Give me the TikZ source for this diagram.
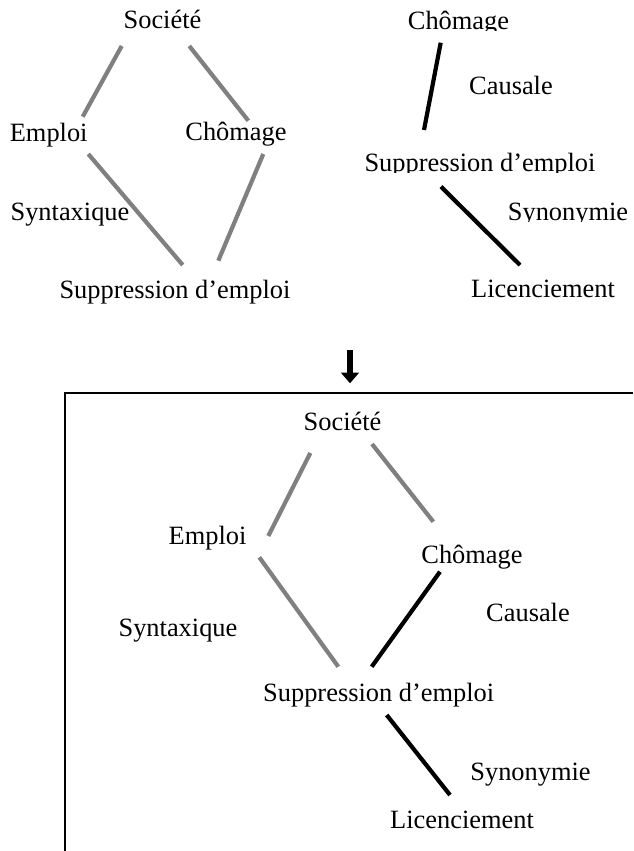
\documentclass[tikz,border=0pt]{standalone}
\usepackage{fontspec}
\setmainfont{Liberation Serif}
\usetikzlibrary{arrows.meta}
\begin{document}
\begin{tikzpicture}[x=1pt,y=-1pt,
  lbl/.style={anchor=base,inner sep=0pt,font=\fontsize{26.4}{30}\selectfont},
  grayline/.style={draw={rgb,255:red,128;green,128;blue,128},line width=4.2pt},
  blackline/.style={draw=black,line width=4.2pt},
  framel/.style={draw=black,line width=2pt},
  bigarrow/.style={draw=black,line width=6pt,-{Triangle[width=17.6pt,length=10.6pt]}}]
\useasboundingbox[fill=white] (0,0) rectangle (633,851);

% ---------- top left ----------
\node[lbl] (soc1) at (162.5,29) {Société};
\node[lbl] (emp1) at (48.7,141.7) {Emploi};
\node[lbl] (cho1) at (236,140) {Chômage};
\node[lbl] (syn1) at (70,220) {Syntaxique};
\node[lbl] (sup1) at (175,298) {Suppression d’emploi};
\coordinate (a1) at (121.7,46);   \coordinate (a2) at (82.7,116.7);
\coordinate (b1) at (189.3,46);   \coordinate (b2) at (248.3,120.7);
\coordinate (c1) at (88.3,154);   \coordinate (c2) at (182.7,265);
\coordinate (d1) at (263.3,154);  \coordinate (d2) at (218.3,260.7);
\draw[grayline] (a1) -- (a2);
\draw[grayline] (b1) -- (b2);
\draw[grayline] (c1) -- (c2);
\draw[grayline] (d1) -- (d2);

% ---------- top right ----------
\begin{scope}
\clip (380,0) rectangle (560,30.8);
\node[lbl] (cho2) at (458.5,29.6) {Chômage};
\end{scope}
\node[lbl] (cau2) at (511,95) {Causale};
\begin{scope}
\clip (340,140) rectangle (633,172.8);
\node[lbl] (sup2) at (480,171.7) {Suppression d’emploi};
\end{scope}
\begin{scope}
\clip (490,190) rectangle (633,221.2);
\node[lbl] (syo2) at (568,220) {Synonymie};
\end{scope}
\node[lbl] (lic2) at (543,297.7) {Licenciement};
\coordinate (e1) at (440.7,42.7); \coordinate (e2) at (424,130);
\coordinate (f1) at (441,186.7);  \coordinate (f2) at (520,265);
\draw[blackline] (e1) -- (e2);
\draw[blackline] (f1) -- (f2);

% ---------- arrow and frame ----------
\coordinate (ar1) at (350,350);
\coordinate (ar2) at (350,383.3);
\draw[bigarrow] (ar1) -- (ar2);
\coordinate (fr1) at (65.3,851);
\coordinate (fr2) at (633,392.5);
\draw[framel] (fr1) |- (fr2);

% ---------- bottom ----------
\node[lbl] (soc3) at (342.5,430) {Société};
\node[lbl] (emp3) at (207.5,544) {Emploi};
\node[lbl] (cho3) at (472,563.3) {Chômage};
\node[lbl] (cau3) at (528,621.7) {Causale};
\node[lbl] (syn3) at (178,636.7) {Syntaxique};
\node[lbl] (sup3) at (378.7,701.7) {Suppression d’emploi};
\node[lbl] (syo3) at (530.5,780) {Synonymie};
\node[lbl] (lic3) at (462,828.3) {Licenciement};
\coordinate (g1) at (310.3,453);  \coordinate (g2) at (268.3,536);
\coordinate (h1) at (372,444);    \coordinate (h2) at (433.3,521.7);
\coordinate (i1) at (259.3,557.3);\coordinate (i2) at (338.3,666.7);
\coordinate (j1) at (440,571.7);  \coordinate (j2) at (371.7,666.7);
\coordinate (k1) at (386.7,715);  \coordinate (k2) at (450,795);
\draw[grayline] (g1) -- (g2);
\draw[grayline] (h1) -- (h2);
\draw[grayline] (i1) -- (i2);
\draw[blackline] (j1) -- (j2);
\draw[blackline] (k1) -- (k2);
\end{tikzpicture}
\end{document}
